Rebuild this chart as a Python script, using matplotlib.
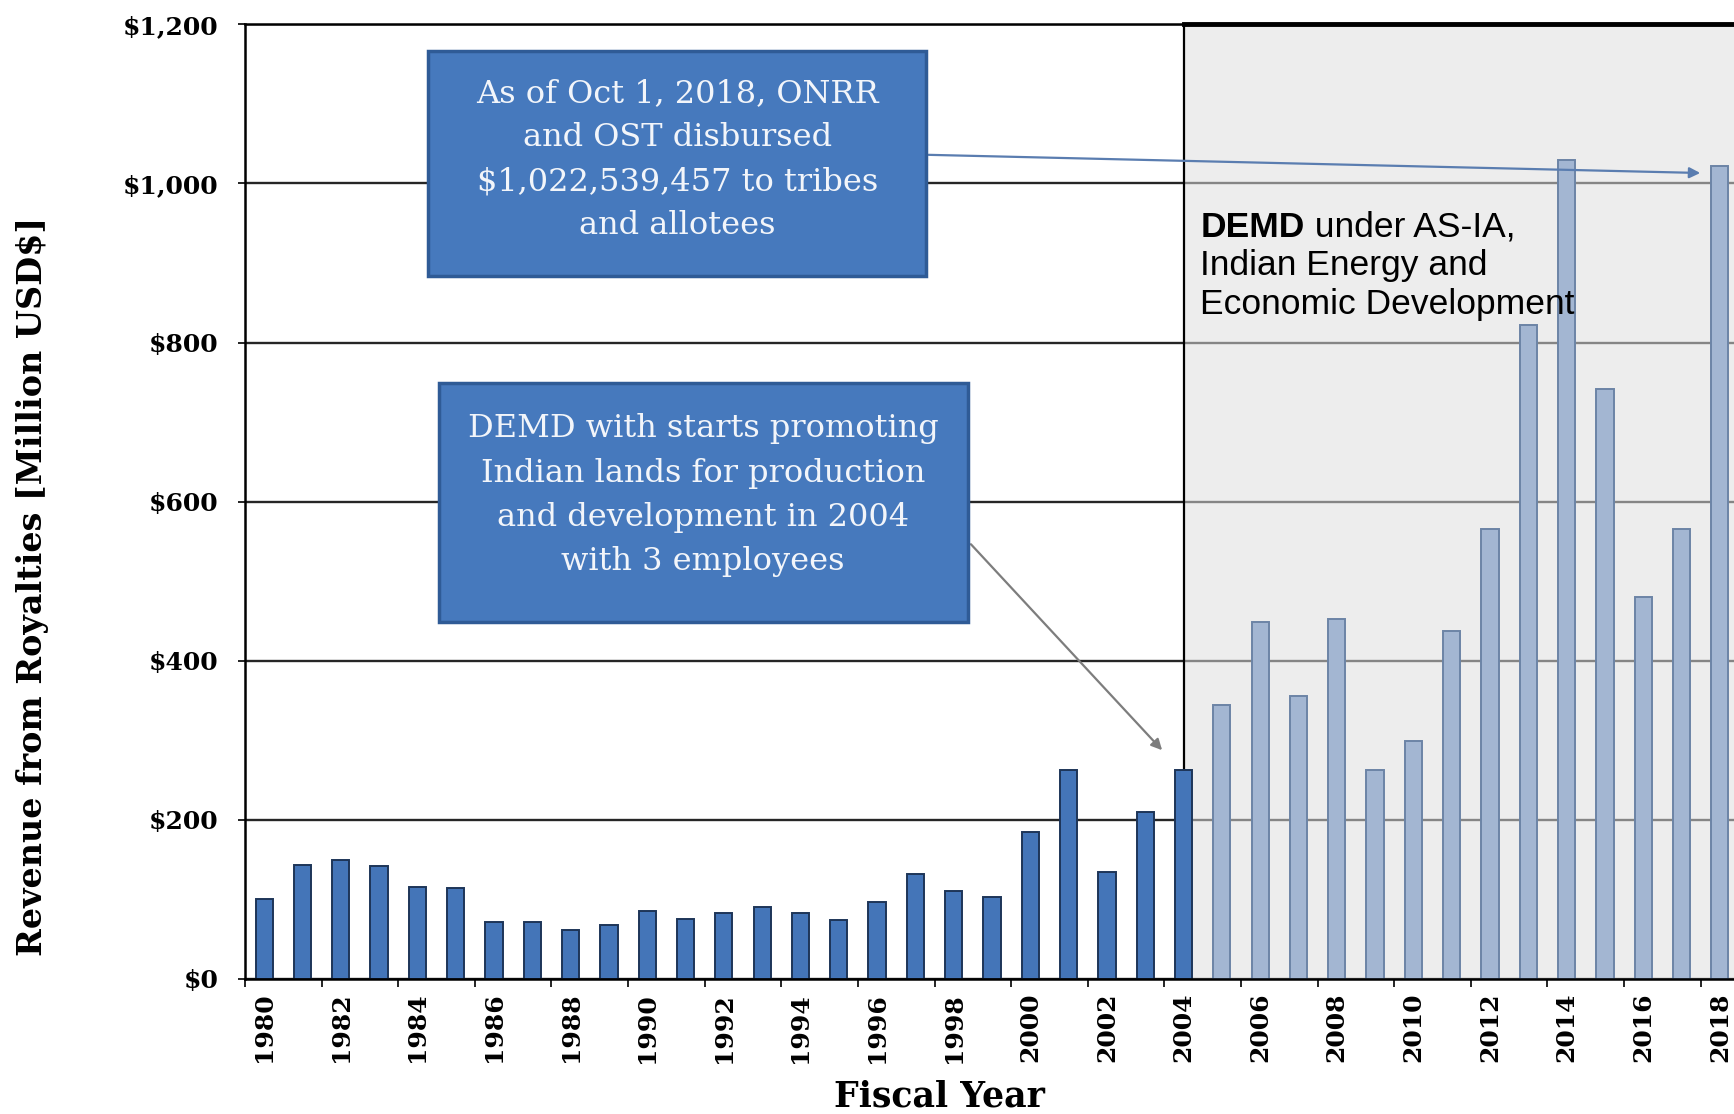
import matplotlib
matplotlib.use("Agg")
import matplotlib.pyplot as plt
from matplotlib.patches import Rectangle, FancyArrowPatch
import numpy as np

# Royalty revenue disbursed per fiscal year, million USD
years = list(range(1980, 2019))
revenue = [101, 143, 150, 142, 115, 114, 72, 71, 61, 68,
           85, 76, 83, 90, 83, 74, 97, 132, 110, 103,
           185, 263, 134, 210, 263, 344, 449, 356, 452, 263,
           299, 437, 565, 822, 1029, 741, 480, 565, 1022.5]
demd_year = 2004
y_ticks = [0, 200, 400, 600, 800, 1000, 1200]

box_top_text = "As of Oct 1, 2018, ONRR\nand OST disbursed\n$1,022,539,457 to tribes\nand allotees"
box_mid_text = "DEMD with starts promoting\nIndian lands for production\nand development in 2004\nwith 3 employees"

SERIF = ["DejaVu Serif"]
SANS = ["Liberation Sans", "DejaVu Sans"]

fig = plt.figure(figsize=(17.34, 11.14), dpi=100)
ax = fig.add_axes([0.1413, 0.1212, 0.8616, 0.857])

x = np.arange(len(years))
split = years.index(demd_year)

ax.set_xlim(-0.5, len(years) - 0.5)
ax.set_ylim(0, 1200)

# gridlines under everything
ax.set_yticks(y_ticks)
ax.yaxis.grid(True, color="#262626", lw=1.7)
ax.set_axisbelow(True)

# shaded DEMD era (semi-transparent so the grid fades behind it)
ax.add_patch(Rectangle((split, 0), len(years) - split, 1200, fc="#dedede",
                       ec="none", alpha=0.52, zorder=1))
ax.axvline(split, color="black", lw=1.6, zorder=1.5)
ax.plot([split, len(years) - 0.5], [1200, 1200], color="black", lw=3.5,
        clip_on=False, zorder=6)

# bars
early = x <= split
ax.bar(x[early], np.array(revenue)[early], width=0.45, color="#4475b8",
       edgecolor="#1d3558", lw=1.4, zorder=2)
ax.bar(x[~early], np.array(revenue)[~early], width=0.45, color="#a3b6d2",
       edgecolor="#6c84a6", lw=1.4, zorder=2)

# axes styling
for side in ["top", "left", "bottom"]:
    ax.spines[side].set_color("black")
    ax.spines[side].set_linewidth(1.8)
ax.spines["right"].set_visible(False)

ax.set_yticklabels(["${:,.0f}".format(v) for v in y_ticks],
                   fontsize=18, fontweight="bold", family=SERIF)
ax.tick_params(axis="y", length=5, width=1.2, pad=14)

ax.set_xticks(x[::2])
ax.set_xticklabels([str(y) for y in years[::2]], rotation=90,
                   fontsize=18, fontweight="bold", family=SERIF)
ax.set_xticks(np.arange(-0.5, len(years), 2), minor=True)
ax.tick_params(axis="x", which="major", length=0, pad=10)
ax.tick_params(axis="x", which="minor", length=6, width=1.2)

fig.text(0.019, 0.474, "Revenue from Royalties [Million USD$]", rotation=90,
         ha="center", va="center", fontsize=24, fontweight="bold",
         family=SERIF)
fig.text(0.542, 0.016, "Fiscal Year", ha="center", va="center",
         fontsize=25, fontweight="bold", family=SERIF)

# callout boxes
ax.add_patch(Rectangle((4.28, 883), 12.99, 283, fc="#4679bd", ec="#2f5b96",
                       lw=2.5, zorder=5))
ax.text(10.78, 1030, box_top_text, ha="center", va="center", color="#f2f5fa",
        fontsize=23, family=SERIF, linespacing=1.55, zorder=6)

ax.add_patch(Rectangle((4.56, 449), 13.8, 300, fc="#4679bd", ec="#2f5b96",
                       lw=2.5, zorder=5))
ax.text(11.46, 608, box_mid_text, ha="center", va="center", color="#f2f5fa",
        fontsize=23, family=SERIF, linespacing=1.55, zorder=6)

ax.add_patch(FancyArrowPatch((17.27, 1036), (37.56, 1013), arrowstyle="-|>",
                             mutation_scale=16, color="#5a7db0", lw=1.6, zorder=4))
ax.add_patch(FancyArrowPatch((18.4, 549), (23.49, 285), arrowstyle="-|>",
                             mutation_scale=16, color="#7d7d7d", lw=1.6, zorder=4))

# DEMD era label
t1 = ax.text(24.44, 933, "DEMD", fontsize=25.5, fontweight="bold", family=SANS,
             va="baseline", zorder=3)
ax.annotate(" under AS-IA,", xy=(1, 0), xycoords=t1, va="bottom",
            fontsize=25.5, family=SANS, zorder=3)
ax.text(24.44, 885, "Indian Energy and", fontsize=25.5, family=SANS,
        va="baseline", zorder=3)
ax.text(24.44, 836, "Economic Development", fontsize=25.5, family=SANS,
        va="baseline", zorder=3)

fig.savefig("out.png", dpi=100, facecolor="white")
